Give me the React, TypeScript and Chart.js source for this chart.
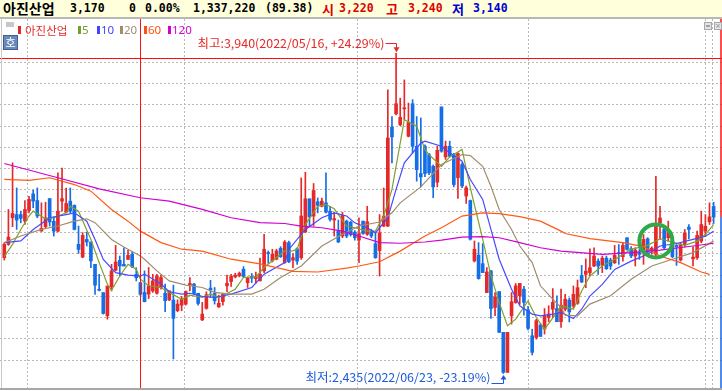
import React, { useEffect, useRef } from 'react';
import { Chart, registerables } from 'chart.js';

Chart.register(...registerables);

// ---------- DATA ----------
const opens = [2979,3042,3167,3182,3182,3151,3201,3279,3248,3104,3125,3257,3150,3104,3245,3193,3245,3225,3042,2982,3065,3053,2948,2830,2815,2706,2842,2920,2967,2948,2971,2995,2901,2862,2816,2808,2823,2812,2839,2812,2781,2780,2730,2756,2761,2850,2855,2812,2687,2741,2836,2811,2748,2773,2847,2867,2889,2894,2925,2862,2891,2881,2870,2917,3003,2964,2972,3023,2956,3050,2968,3021,2979,3100,3256,3175,3242,3221,3237,3198,3156,3104,3081,3151,3146,3099,3062,3151,3089,3104,3045,3013,3128,3128,3593,3656,3604,3679,3550,3703,3503,3375,3503,3464,3409,3334,3688,3453,3503,3464,3355,3417,3269,3248,2964,2991,2951,2815,2917,2745,2820,2628,2440,2706,2768,2800,2831,2734,2612,2604,2662,2644,2698,2737,2740,2678,2737,2780,2752,2765,2896,2901,2909,2940,2963,2943,2977,2968,2955,3002,2984,3073,3021,2987,3002,3010,3068,3015,2995,3143,3112,3073,3057,3037,2968,3041,3123,2974,2979,3057,3104,3148,3220];
const highs = [3050,3206,3425,3307,3198,3248,3268,3297,3307,3237,3240,3257,3171,3378,3401,3307,3307,3228,3128,3097,3100,3053,2948,2901,2815,2846,2948,3037,2987,3026,3014,3006,2932,2862,2917,2933,2901,2901,2897,2855,2823,2850,2781,2797,2823,2886,2859,2812,2769,2819,2873,2839,2803,2808,2897,2901,2906,2912,2937,2889,2905,2912,2977,3089,3011,3019,3019,3031,3060,3057,2999,3026,3354,3381,3256,3328,3260,3260,3378,3221,3193,3156,3193,3156,3151,3107,3167,3151,3221,3112,3099,3182,3307,3768,3643,3940,3729,3815,3706,3722,3643,3636,3510,3470,3415,3503,3688,3527,3527,3470,3472,3425,3316,3250,3058,3050,3045,2933,2920,2815,2820,2628,2628,2815,2858,2858,2844,2750,2643,2690,2670,2740,2753,2834,2800,2831,2807,2790,2846,2874,2943,2974,3021,3026,2974,2987,2987,2977,3037,3041,3049,3073,3031,3026,3018,3088,3073,3030,3362,3221,3127,3151,3080,3041,3049,3112,3135,3030,3104,3198,3182,3237,3240];
const lows = [2968,3037,3125,3112,3143,3136,3190,3214,3167,3104,3120,3128,3081,3100,3198,3190,3190,3110,2999,2979,3034,2932,2807,2823,2714,2690,2823,2917,2893,2940,2971,2932,2870,2800,2772,2787,2816,2808,2831,2725,2777,2503,2725,2730,2756,2823,2808,2756,2683,2737,2792,2761,2745,2756,2819,2844,2884,2889,2886,2839,2862,2859,2870,2909,2953,2959,2969,2980,2953,2956,2932,2948,2971,3097,3128,3128,3190,3218,3190,3151,3081,3050,3073,3073,3081,3062,2956,3089,3084,3073,2976,2893,3125,3125,3425,3651,3600,3628,3547,3472,3339,3312,3360,3370,3261,3312,3475,3441,3453,3312,3258,3308,3234,3062,2959,2878,2909,2815,2694,2706,2628,2435,2440,2667,2765,2760,2709,2640,2522,2596,2609,2620,2678,2698,2678,2651,2729,2677,2744,2760,2862,2838,2893,2937,2901,2909,2924,2924,2952,2948,2963,3015,2979,2940,2971,2948,3002,2995,2987,3065,3018,3057,2979,2943,2963,3030,3068,2940,2971,3049,3080,3135,3140];
const closes = [3042,3076,3187,3156,3164,3206,3253,3245,3175,3117,3167,3147,3104,3198,3257,3234,3198,3112,3018,3084,3053,2964,2850,2826,2717,2846,2917,2959,2940,2940,2990,2937,2885,2807,2772,2847,2870,2894,2886,2777,2823,2694,2761,2784,2820,2858,2811,2764,2714,2805,2828,2777,2765,2808,2859,2891,2897,2906,2891,2883,2883,2891,2902,3019,2998,2995,3011,2984,3053,2960,2979,2963,3175,3256,3171,3295,3225,3245,3193,3159,3163,3053,3178,3081,3088,3073,3092,3093,3148,3081,2979,3096,3175,3542,3547,3703,3639,3684,3615,3503,3393,3359,3375,3378,3312,3484,3480,3503,3456,3323,3469,3316,3308,3066,3019,2881,2909,2912,2740,2794,2628,2440,2628,2772,2847,2858,2769,2647,2534,2683,2609,2706,2714,2769,2678,2756,2784,2724,2807,2838,2865,2916,2932,2987,2940,2977,2927,2940,2990,2998,3037,3018,2987,3015,2995,3065,3006,3024,3127,3166,3026,3104,2984,3030,3041,3096,3112,2982,3084,3135,3127,3171,3170];

// moving averages: [candle index, price]
const ma5: number[][] = [[0,2984],[2,3042],[4,3112],[6,3175],[7,3198],[10,3162],[12,3167],[15,3190],[16,3221],[18,3198],[21,3065],[23,2956],[25,2854],[26,2826],[28,2893],[30,2948],[32,2925],[33,2878],[35,2847],[38,2839],[40,2816],[43,2784],[45,2803],[48,2792],[50,2808],[52,2792],[56,2831],[58,2886],[61,2889],[63,2933],[66,2980],[68,3011],[69,3006],[71,3018],[73,3135],[76,3221],[78,3229],[80,3209],[83,3128],[85,3120],[88,3104],[90,3104],[92,3175],[94,3300],[96,3518],[97,3628],[100,3597],[102,3487],[103,3464],[106,3409],[108,3453],[111,3488],[113,3308],[116,3066],[118,2894],[120,2769],[122,2659],[124,2690],[127,2776],[129,2698],[131,2643],[134,2722],[135,2753],[138,2737],[140,2823],[142,2893],[145,2940],[148,2971],[152,3018],[156,3037],[159,3068],[162,3052],[165,3037],[168,3057],[170,3088],[172,3135]];
const ma10: number[][] = [[0,3050],[4,3058],[7,3112],[11,3167],[15,3182],[17,3190],[20,3151],[22,3065],[24,2971],[27,2909],[30,2897],[33,2893],[34,2902],[38,2855],[40,2819],[43,2808],[45,2812],[48,2797],[51,2792],[55,2808],[60,2839],[63,2902],[68,2956],[69,3018],[73,3112],[77,3167],[80,3190],[83,3175],[85,3143],[88,3120],[90,3096],[93,3167],[95,3300],[97,3425],[101,3518],[102,3527],[106,3503],[108,3472],[111,3433],[113,3347],[116,3253],[118,3112],[120,2972],[123,2831],[125,2753],[128,2714],[130,2706],[133,2714],[135,2722],[138,2693],[140,2737],[142,2799],[145,2854],[148,2924],[152,2963],[156,2995],[159,3034],[163,3046],[167,3065],[170,3080],[172,3104]];
const ma20: number[][] = [[0,3050],[4,3081],[9,3112],[13,3128],[17,3151],[20,3162],[22,3144],[26,3065],[29,3029],[33,2987],[34,2972],[37,2917],[40,2870],[44,2850],[48,2839],[51,2816],[55,2808],[60,2808],[63,2831],[67,2886],[72,2940],[77,3034],[82,3089],[86,3128],[91,3147],[94,3190],[96,3237],[101,3312],[106,3417],[111,3464],[113,3459],[116,3409],[118,3315],[120,3206],[123,3112],[125,3034],[128,2956],[130,2847],[133,2784],[135,2745],[136,2709],[139,2706],[142,2761],[147,2800],[152,2878],[157,2940],[162,2972],[167,3003],[172,3057]];
const ma60: number[][] = [[0,3347],[6,3343],[11,3355],[17,3323],[21,3292],[26,3206],[30,3151],[33,3104],[38,3050],[43,3019],[48,3010],[55,2972],[62,2950],[70,2915],[76,2912],[83,2930],[86,2940],[91,2960],[96,3010],[102,3081],[106,3120],[111,3175],[116,3190],[120,3186],[125,3172],[130,3151],[135,3104],[136,3093],[142,3069],[150,3050],[155,3031],[159,2987],[164,2956],[169,2912],[171,2901]];
const ma120: number[][] = [[0,3422],[13,3355],[23,3303],[33,3261],[40,3245],[48,3206],[55,3167],[62,3144],[68,3140],[72,3128],[77,3120],[82,3104],[86,3081],[91,3050],[96,3047],[102,3053],[106,3062],[111,3076],[116,3078],[120,3073],[125,3050],[130,3026],[135,3010],[145,2995],[152,3003],[159,3015],[167,3034],[172,3047]];

const gridPrices = [2500,2600,2700,2800,2900,3000,3100,3200,3300,3400,3500,3600,3700,3800,3900];
const monthLineIdx = [5.5, 43.5, 85.5, 127, 170, 171.7];
const crossIdx = 33;
const crossPrice = 3920;
const highIdx = 95;
const lowIdx = 121;
const circleIdx = 158;
const circlePrice = 3058;
const highLabel = '최고:3,940(2022/05/16, +24.29%)';
const lowLabel = '최저:2,435(2022/06/23, -23.19%)';

const stockName = '아진산업';
const changeText = '0';
const changePct = '0.00%';
const volumeText = '1,337,220';
const volRatioText = '(89.38)';
const legendItems = [
  { label: '5', color: '#76a02c' },
  { label: '10', color: '#4444ff' },
  { label: '20', color: '#a08c6e' },
  { label: '60', color: '#ff5014' },
  { label: '120', color: '#d400d4' },
];

// ---------- STYLE ----------
const RED = '#e62828';
const BLUE = '#146ee6';
const MA_COLORS = ['#80a030', '#4848ff', '#a08c6e', '#ff5a14', '#d000d0'];
const fmt = (n: number) => n.toLocaleString('en-US');

const X_MIN = -1.043;
const X_MAX = 174.03;
const Y_MIN = 2366.5;
const Y_MAX = 4101.4;

function line(ctx: CanvasRenderingContext2D, x1: number, y1: number, x2: number, y2: number) {
  ctx.beginPath();
  ctx.moveTo(x1, y1);
  ctx.lineTo(x2, y2);
  ctx.stroke();
}

function fitText(ctx: CanvasRenderingContext2D, text: string, right: number, cy: number, width: number, color: string) {
  ctx.save();
  ctx.font = '12px "Noto Sans CJK KR", "DejaVu Sans", sans-serif';
  ctx.fillStyle = color;
  ctx.textBaseline = 'middle';
  const w = ctx.measureText(text).width;
  const left = right - width;
  ctx.translate(left, cy);
  ctx.scale(width / w, 1);
  ctx.fillText(text, 0, 0);
  ctx.restore();
}

const overlayPlugin = {
  id: 'overlay',
  beforeDatasetsDraw(chart: any) {
    const { ctx, chartArea: a, scales } = chart;
    const x = scales.x, y = scales.y;
    ctx.save();
    ctx.strokeStyle = '#b8b8b8';
    ctx.lineWidth = 1;
    ctx.setLineDash([2, 2]);
    gridPrices.forEach((p) => {
      const py = Math.round(y.getPixelForValue(p)) + 0.5;
      line(ctx, a.left, py, a.right, py);
    });
    monthLineIdx.forEach((i) => {
      const px = Math.round(x.getPixelForValue(i)) + 0.5;
      line(ctx, px, a.top, px, a.bottom);
    });
    ctx.restore();
  },
  afterDatasetsDraw(chart: any) {
    const { ctx, chartArea: a, scales } = chart;
    const x = scales.x, y = scales.y;
    ctx.save();
    // crosshair
    ctx.strokeStyle = '#ff1010';
    ctx.lineWidth = 1;
    const cx = Math.round(x.getPixelForValue(crossIdx)) + 0.5;
    line(ctx, cx, a.top, cx, a.bottom);
    const cy = Math.round(y.getPixelForValue(crossPrice)) + 0.5;
    line(ctx, a.left, cy, a.right, cy);

    // right edge price marker
    const lastY = y.getPixelForValue(closes[closes.length - 1]);
    ctx.lineWidth = 1.5;
    ctx.strokeStyle = '#ff1010';
    line(ctx, a.right - 1, a.top, a.right - 1, lastY);
    ctx.strokeStyle = '#1464e6';
    line(ctx, a.right - 1, lastY, a.right - 1, a.bottom);

    // green marker circle
    ctx.strokeStyle = '#2eaa48';
    ctx.lineWidth = 4;
    ctx.beginPath();
    ctx.arc(x.getPixelForValue(circleIdx), y.getPixelForValue(circlePrice), 16.5, 0, Math.PI * 2);
    ctx.stroke();

    // high annotation
    ctx.lineWidth = 1;
    const hx = Math.round(x.getPixelForValue(highIdx)) + 0.5;
    const hy = y.getPixelForValue(highs[highIdx]);
    ctx.strokeStyle = RED;
    ctx.fillStyle = RED;
    fitText(ctx, highLabel, hx - 12, hy - 9.5, 187, RED);
    const hl = Math.round(hy - 10) + 0.5;
    line(ctx, hx - 11, hl, hx, hl);
    line(ctx, hx, hl, hx, hy - 2);
    ctx.beginPath();
    ctx.moveTo(hx - 3, hy - 6);
    ctx.lineTo(hx + 3, hy - 6);
    ctx.lineTo(hx, hy - 1);
    ctx.closePath();
    ctx.fill();

    // low annotation
    const lx = Math.round(x.getPixelForValue(lowIdx)) + 0.5;
    const ly = y.getPixelForValue(lows[lowIdx]);
    ctx.strokeStyle = '#1e5ad8';
    ctx.fillStyle = '#1e5ad8';
    fitText(ctx, lowLabel, lx - 13, ly + 4.5, 185, '#1e5ad8');
    const ll = Math.round(ly + 10) + 0.5;
    line(ctx, lx - 12, ll, lx, ll);
    line(ctx, lx, ll, lx, ly + 3);
    ctx.beginPath();
    ctx.moveTo(lx - 3, ly + 6);
    ctx.lineTo(lx + 3, ly + 6);
    ctx.lineTo(lx, ly + 1.5);
    ctx.closePath();
    ctx.fill();
    ctx.restore();
  },
};

function CandleChart() {
  const ref = useRef<HTMLCanvasElement | null>(null);
  useEffect(() => {
    if (!ref.current) return;
    const idx = opens.map((_, i) => i);
    const colors = idx.map((i) => (closes[i] >= opens[i] ? RED : BLUE));
    const bodies = idx.map((i) => ({ x: i, y: [opens[i], closes[i]] }));
    const wicks = idx.map((i) => ({ x: i, y: [lows[i], highs[i]] }));
    const maSets = [ma120, ma60, ma20, ma10, ma5];
    const maCols = [MA_COLORS[4], MA_COLORS[3], MA_COLORS[2], MA_COLORS[1], MA_COLORS[0]];
    const lineSets = maSets.map((m, k) => ({
      type: 'line' as const,
      data: m.map(([i, v]) => ({ x: i, y: v })),
      borderColor: maCols[k],
      borderWidth: 1.2,
      pointRadius: 0,
      tension: 0,
      fill: false,
      order: 1,
    }));
    const chart = new Chart(ref.current, {
      type: 'bar',
      data: {
        datasets: [
          ...lineSets,
          {
            type: 'bar' as const,
            data: bodies as any,
            backgroundColor: colors,
            barThickness: 3,
            grouped: false,
            minBarLength: 1,
            borderWidth: 0,
            order: 3,
          },
          {
            type: 'bar' as const,
            data: wicks as any,
            backgroundColor: colors,
            barThickness: 1,
            grouped: false,
            borderWidth: 0,
            order: 4,
          },
        ] as any,
      },
      options: {
        animation: false,
        responsive: false,
        events: [],
        layout: { padding: 0 },
        plugins: { legend: { display: false }, tooltip: { enabled: false } },
        scales: {
          x: { type: 'linear', min: X_MIN, max: X_MAX, display: false, offset: false },
          y: { type: 'linear', min: Y_MIN, max: Y_MAX, display: false },
        },
      },
      plugins: [overlayPlugin],
    });
    return () => chart.destroy();
  }, []);
  return <canvas ref={ref} width={722} height={369} style={{ position: 'absolute', left: 0, top: 19, width: 722, height: 369 }} />;
}

const KO = '"Noto Sans CJK KR", sans-serif';
const MONO = '"DejaVu Sans Mono", monospace';

function Tok({ x, color, size, font, bold, children, top = 0, lh = 17 }: any) {
  return (
    <span
      style={{
        position: 'absolute',
        left: x,
        top,
        color,
        fontFamily: font,
        fontSize: size,
        fontWeight: bold ? 700 : 400,
        lineHeight: lh + 'px',
        whiteSpace: 'pre',
      }}
    >
      {children}
    </span>
  );
}

export default function App() {
  const last = closes.length - 1;
  return (
    <div style={{ position: 'fixed', left: 0, top: 0, width: 722, height: 391, background: '#fff', overflow: 'hidden' }}>
      {/* header */}
      <div style={{ position: 'absolute', left: 0, top: 0, width: 722, height: 17, background: '#ffffdc', borderBottom: '2px solid #b8b8b8' }}>
        <Tok x={3} color="#000" size={14} font={KO} bold>{stockName}</Tok>
        <Tok x={70} color="#000" size={11.5} font={MONO} bold>{fmt(closes[last])}</Tok>
        <Tok x={129} color="#000" size={11.5} font={MONO} bold>{changeText}</Tok>
        <Tok x={145} color="#000" size={11.5} font={MONO} bold>{changePct}</Tok>
        <Tok x={193} color="#000" size={11.5} font={MONO} bold>{volumeText}</Tok>
        <Tok x={265} color="#000" size={11.5} font={MONO} bold>{volRatioText}</Tok>
        <Tok x={322} color="#e00000" size={13} font={KO} bold>시</Tok>
        <Tok x={339} color="#e00000" size={11.5} font={MONO} bold>{fmt(opens[last])}</Tok>
        <Tok x={386} color="#e00000" size={13} font={KO} bold>고</Tok>
        <Tok x={408} color="#e00000" size={11.5} font={MONO} bold>{fmt(highs[last])}</Tok>
        <Tok x={452} color="#0000d0" size={13} font={KO} bold>저</Tok>
        <Tok x={473} color="#0000d0" size={11.5} font={MONO} bold>{fmt(lows[last])}</Tok>
      </div>

      <CandleChart />

      {/* frame lines */}
      <div style={{ position: 'absolute', left: 1, top: 19, width: 1, height: 369, background: '#c8c8c8' }} />
      <div style={{ position: 'absolute', left: 0, top: 388, width: 722, height: 2, background: '#a8a8a8' }} />

      {/* legend */}
      <div style={{ position: 'absolute', left: 6, top: 22, width: 8, height: 5, background: '#c8c8c8' }} />
      <div style={{ position: 'absolute', left: 18, top: 26, width: 3, height: 8, background: RED }} />
      <Tok x={25} top={22} lh={16} color={RED} size={11.5} font={KO}>{stockName}</Tok>
      {legendItems.map((it, k) => {
        const xs = [78, 97, 120, 144, 168];
        return (
          <React.Fragment key={it.label}>
            <div style={{ position: 'absolute', left: xs[k], top: 26, width: 3, height: 8, background: it.color }} />
            <Tok x={xs[k] + 4} top={22} lh={16} color={it.color} size={11.5} font='"Noto Sans", sans-serif'>{it.label}</Tok>
          </React.Fragment>
        );
      })}

      {/* small button */}
      <div
        style={{
          position: 'absolute', left: 3, top: 35, width: 13, height: 13, background: '#6a8cba',
          border: '1px solid #3f5f8f', color: '#fff', fontFamily: KO, fontSize: 11, lineHeight: '13px', textAlign: 'center',
        }}
      >
        호
      </div>

      {/* window icons */}
      <div style={{ position: 'absolute', left: 704, top: 22, width: 6, height: 6, border: '1px solid #a8a8a8', background: '#e4e4e4' }}>
        <div style={{ position: 'absolute', left: 1, top: 2, width: 4, height: 2, background: '#a0a0a0' }} />
      </div>
      <div style={{ position: 'absolute', left: 714, top: 22, width: 6, height: 6, border: '1px solid #a8a8a8', background: '#e4e4e4', fontSize: 7, lineHeight: '6px', textAlign: 'center', color: '#888', fontFamily: 'DejaVu Sans' }}>
        ×
      </div>
    </div>
  );
}
